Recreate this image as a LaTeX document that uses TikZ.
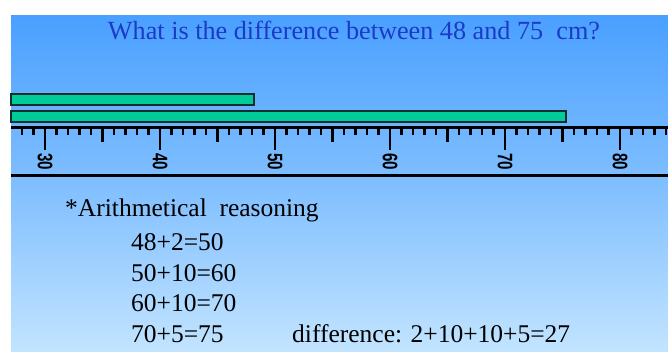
\documentclass[tikz,border=0pt]{standalone}
\usepackage{fontspec}
\setmainfont{Liberation Serif}
\newfontfamily\rulerfont{Liberation Sans}
\definecolor{bgtop}{RGB}{74,160,255}
\definecolor{bgbot}{RGB}{194,228,255}
\definecolor{barfill}{RGB}{0,204,153}
\definecolor{baredge}{RGB}{20,45,45}
\definecolor{titleblue}{RGB}{28,58,200}
\begin{document}
\begin{tikzpicture}[x=1pt,y=-1pt,
  bigtext/.style={inner sep=0pt,font=\fontsize{25.5}{30}\selectfont},
  barbox/.style={fill=barfill,draw=baredge,line width=1.5pt},
  tickline/.style={line width=2.4pt},
  ticklab/.style={inner sep=0pt,rotate=-90,font=\rulerfont\bfseries\fontsize{21}{21}\selectfont}]
\useasboundingbox (0,0) rectangle (668,351);
\fill[white] (0,0) rectangle (668,351);
\shade[top color=bgtop,bottom color=bgbot,middle color=bgtop!55!bgbot] (11,15) rectangle (668,351);
% title
\node[bigtext,anchor=base,text=titleblue,font=\fontsize{26.2}{30}\selectfont] (title) at (354,39) {What is the difference between 48 and 75\ \ cm?};
% bars
\node[barbox,anchor=north west,minimum width=243pt,minimum height=11pt,inner sep=0pt] (bar1) at (10,93) {};
\node[barbox,anchor=north west,minimum width=555pt,minimum height=11pt,inner sep=0pt] (bar2) at (10,110) {};
% ruler
\draw[line width=2.6pt] (11,127.3) -- (668,127.3);
\draw[line width=2.2pt] (11,175.5) -- (668,175.5);
\foreach \u in {28,...,84}{
  \pgfmathsetmacro{\xx}{45+11.5*(\u-30)}
  \pgfmathtruncatemacro{\rem}{mod(\u,10)}
  \pgfmathtruncatemacro{\remf}{mod(\u,5)}
  \ifnum\rem=0
    \draw[tickline] (\xx,127) -- (\xx,150);
  \else\ifnum\remf=0
    \draw[tickline] (\xx,127) -- (\xx,142);
  \else
    \draw[tickline] (\xx,127) -- (\xx,135);
  \fi\fi
}
\foreach \v in {30,40,50,60,70,80}{
  \pgfmathsetmacro{\xx}{45+11.5*(\v-30)}
  \node[ticklab] (lab\v) at (\xx,161.5) {\scalebox{0.72}[1]{\v}};
}
% text
\node[bigtext,anchor=base west] (head) at (65,216) {*Arithmetical\ \ reasoning};
\node[bigtext,anchor=base west] (l1) at (131,250) {48+2=50};
\node[bigtext,anchor=base west] (l2) at (131,281) {50+10=60};
\node[bigtext,anchor=base west] (l3) at (131,311) {60+10=70};
\node[bigtext,anchor=base west] (l4) at (131,342) {70+5=75};
\node[bigtext,anchor=base west] (diff) at (292,342) {difference: 2+10+10+5=27};
\end{tikzpicture}
\end{document}
